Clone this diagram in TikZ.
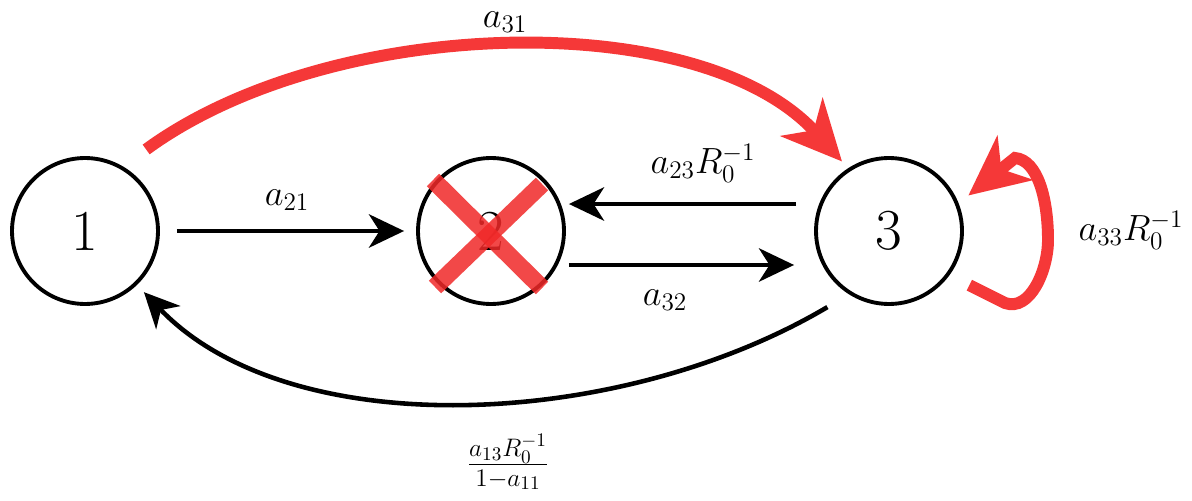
\documentclass[tikz,border=0pt]{standalone}
\usetikzlibrary{arrows.meta}
\definecolor{arcred}{RGB}{245,56,56}
\definecolor{crossred}{RGB}{240,40,40}
\tikzset{
    state/.style={draw, circle, line width=2.2pt, minimum size=2.92cm, inner sep=0pt, font=\fontsize{33}{40}\selectfont},
    blk/.style={line width=2.6pt, -{Stealth[length=20pt, width=19pt, inset=6pt]}},
    redarr/.style={line width=6.8pt, arcred, -{Stealth[length=34pt, width=32pt, inset=10pt]}},
    lab/.style={font=\fontsize{21}{25}\selectfont},
    xbar/.style={line width=10pt, crossred, opacity=0.85}
}
\begin{document}
\begin{tikzpicture}[x=0.02cm, y=-0.02cm]
    \useasboundingbox (0,0) rectangle (1192,500);
    \node[state] (n1) at (85,231) {1};
    \node[state] (n2) at (491,231) {2};
    \node[state] (n3) at (889,231) {3};
    % straight arrows
    \draw[blk, shorten <=0.34cm, shorten >=0.24cm] (n1.east) -- (n2.west);
    \draw[blk, shorten <=0.36cm, shorten >=0.06cm] ([yshift=0.54cm]n3.west) -- ([yshift=0.54cm]n2.east);
    \draw[blk, shorten <=0.06cm, shorten >=0.4cm] ([yshift=-0.68cm]n2.east) -- ([yshift=-0.68cm]n3.west);
    % lower return arc
    \draw[blk] ([shift={(-129:0.46cm)}]n3.-129) .. controls (620,430) and (290,445) .. ([shift={(-46.5:0.2cm)}]n1.-46.5);
    % red arcs
    \draw[redarr] ([shift={(53.5:0.54cm)}]n1.53.5) .. controls (330,15) and (700,5) .. ([shift={(124.6:0.18cm)}]n3.124.6);
    \draw[redarr, line cap=butt] ([shift={(-34:0.44cm)}]n3.-34) -- (1005,303)
        .. controls (1030,312) and (1048,270) .. (1048,240)
        .. controls (1048,200) and (1038,160) .. (1015,158)
        -- ([shift={(24.8:0.24cm)}]n3.24.8);
    % crossed out state
    \draw[xbar] (433,180) -- (542,288);
    \draw[xbar] (542,184) -- (435,287);
    % labels
    \node[lab] (l21) at (287,200) {$a_{21}$};
    \node[lab] (l23) at (703,163) {$a_{23}R_0^{-1}$};
    \node[lab] (l32) at (665,300) {$a_{32}$};
    \node[lab] (l31) at (505,22) {$a_{31}$};
    \node[lab] (l33) at (1131,230) {$a_{33}R_0^{-1}$};
    \node[lab, font=\fontsize{22}{26}\selectfont] (l13) at (508,462) {$\frac{a_{13}R_0^{-1}}{1-a_{11}}$};
\end{tikzpicture}
\end{document}
